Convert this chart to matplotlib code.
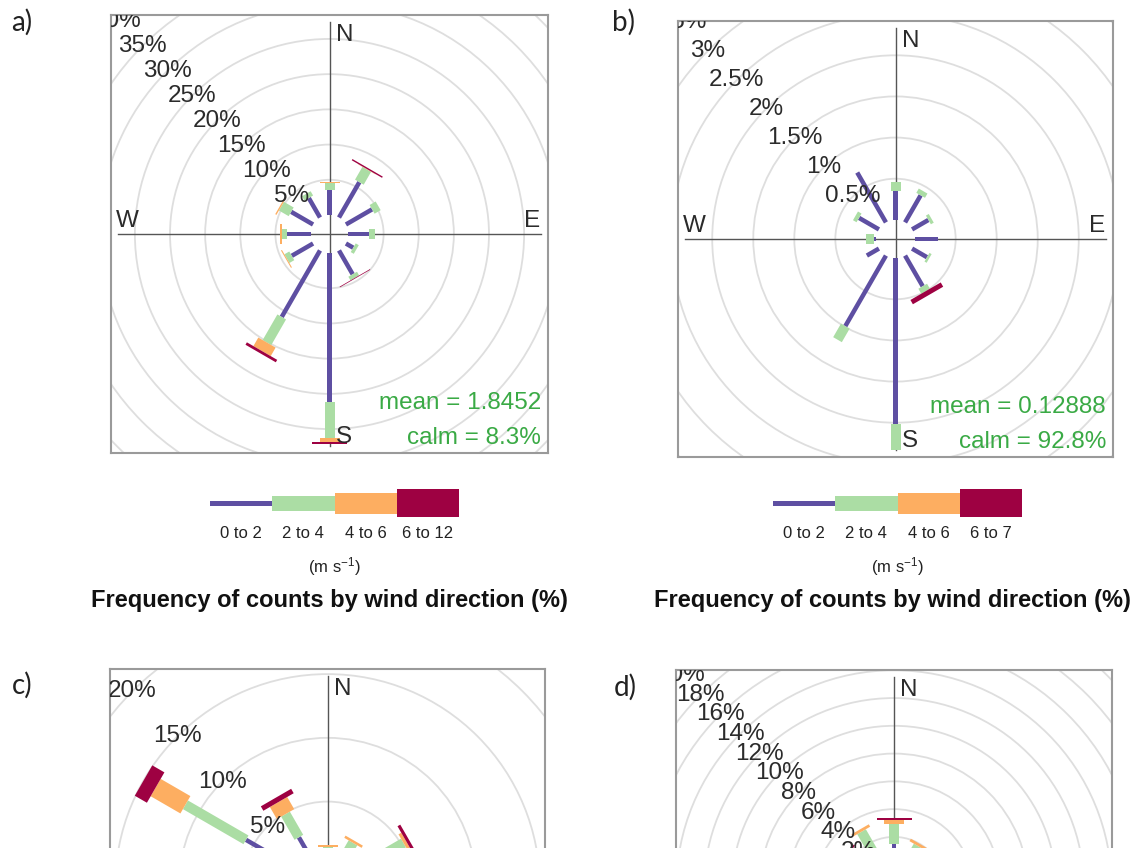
import matplotlib.pyplot as plt
from matplotlib.patches import Polygon, Circle
import numpy as np

plt.rcParams['font.family'] = ['Liberation Sans', 'DejaVu Sans']
plt.rcParams['mathtext.default'] = 'regular'

W, H = 1145, 848

# wind direction sectors (deg clockwise from north)
wd = np.arange(0, 360, 30)

# speed bins colours (openair default)
cols = ['#5E4FA2', '#ABDDA4', '#FDAE61', '#9E0142']

# a) frequency (%) for each speed bin
a_s1 = [3.6, 5.8, 4.3, 2.9, 1.2, 3.9, 21.1, 10.9, 3.5, 3.4, 3.6, 3.2]
a_s2 = [1.0, 2.1, 1.0, 0.9, 0.5, 0.6, 5.1, 4.2, 0.8, 0.7, 1.6, 0.7]
a_s3 = [0.15, 0.05, 0, 0, 0, 0, 0.6, 1.4, 0.15, 0.2, 0.2, 0]
a_s4 = [0, 0.2, 0, 0, 0, 0.1, 0.3, 0.4, 0, 0, 0, 0]
a_bins = ['0 to 2', '2 to 4', '4 to 6', '6 to 12']

# b)
b_s1 = [0.35, 0.38, 0.23, 0.28, 0.21, 0.43, 2.01, 0.99, 0.17, 0.03, 0.28, 0.70]
b_s2 = [0.11, 0.06, 0.04, 0, 0.03, 0.07, 0.32, 0.19, 0, 0.10, 0.05, 0]
b_s3 = [0, 0, 0, 0, 0, 0, 0, 0, 0, 0, 0, 0]
b_s4 = [0, 0, 0, 0, 0, 0.06, 0, 0, 0, 0, 0, 0]
b_bins = ['0 to 2', '2 to 4', '4 to 6', '6 to 7']

# c)  (lower half is cut off in the source)
c_s1 = [1.0, 1.3, 3.0, 3.0, 2.0, 1.5, 2.0, 2.5, 3.0, 4.0, 5.7, 2.8]
c_s2 = [0.45, 1.0, 2.2, 1.0, 0.5, 0.3, 0.6, 0.8, 1.0, 1.5, 5.5, 2.1]
c_s3 = [0.15, 0.2, 0.25, 0.2, 0.1, 0, 0.1, 0.2, 0.3, 0.5, 2.7, 1.1]
c_s4 = [0, 0, 0.25, 0.1, 0, 0, 0, 0, 0.1, 0.2, 1.1, 0.4]

# d)
d_s1 = [1.5, 1.1, 1.0, 1.2, 1.0, 1.5, 3.0, 4.0, 2.0, 1.5, 1.2, 1.4]
d_s2 = [1.42, 0.7, 0.5, 0.5, 0.4, 0.8, 2.0, 5.0, 1.0, 0.6, 0.8, 1.6]
d_s3 = [0.29, 0.2, 0.1, 0.1, 0.1, 0.3, 1.0, 2.5, 0.3, 0.2, 0.3, 0.2]
d_s4 = [0.15, 0, 0, 0, 0, 0.1, 0.5, 1.0, 0.1, 0, 0.1, 0]

widths_px = [4.5, 10, 20, 35]  # bar widths for each speed bin
green_txt = '#3aaa45'
txt_col = '#2b2b2b'
fs = 17.5


def px_box(x0, y0, x1, y1):
    return [x0 / W, 1 - y1 / H, (x1 - x0) / W, (y1 - y0) / H]


def rose(box, bins, off, lim, step, mean=None, calm=None, full=True):
    ax = fig.add_axes(px_box(*box))
    k = (box[2] - box[0]) / (2 * lim)  # px per %
    ax.set_xlim(-lim, lim)
    ax.set_ylim(-lim, lim)
    ax.set_xticks([])
    ax.set_yticks([])
    for s in ax.spines.values():
        s.set_color('#9a9a9a')
        s.set_linewidth(1.5)

    # grid rings + labels
    p = step
    while p + off < lim * np.sqrt(2):
        r = p + off
        ax.add_patch(Circle((0, 0), r, fill=False, ec='#dedede', lw=1.3, zorder=1))
        ax.text(-r * np.sin(np.pi / 4), r * np.cos(np.pi / 4), '%g%%' % p,
                ha='center', va='center', fontsize=fs, color=txt_col, zorder=5, clip_on=True)
        p += step

    m = 0.97 * lim
    ax.plot([0, 0], [-m, m], color='#555555', lw=1, zorder=2)
    ax.plot([-m, m], [0, 0], color='#555555', lw=1, zorder=2)

    # stacked spokes
    th = np.radians(wd)
    cum = np.zeros(len(wd))
    for j, f in enumerate(bins):
        f = np.asarray(f, dtype=float)
        hw = widths_px[j] / 2 / k
        for i in range(len(wd)):
            if f[i] <= 0:
                continue
            r1, r2 = cum[i] + off, cum[i] + f[i] + off
            u = np.array([np.sin(th[i]), np.cos(th[i])])
            n = np.array([np.cos(th[i]), -np.sin(th[i])])
            pts = [r1 * u + hw * n, r2 * u + hw * n, r2 * u - hw * n, r1 * u - hw * n]
            ax.add_patch(Polygon(pts, closed=True, fc=cols[j], ec='none', zorder=3))
        cum = cum + f

    # cardinal labels
    ax.annotate('N', (0, 0.91 * lim), xytext=(6, 0), textcoords='offset pixels',
                ha='left', va='center', fontsize=fs, color=txt_col)
    if full:
        ax.annotate('S', (0, -0.925 * lim), xytext=(6, 0), textcoords='offset pixels',
                    ha='left', va='center', fontsize=fs, color=txt_col)
        ax.annotate('E', (0.925 * lim, 0), xytext=(0, 13), textcoords='offset pixels',
                    ha='center', va='center', fontsize=fs, color=txt_col)
        ax.annotate('W', (-0.925 * lim, 0), xytext=(0, 13), textcoords='offset pixels',
                    ha='center', va='center', fontsize=fs, color=txt_col)

    if mean is not None:
        ax.text(0.984, 0.114, 'mean = ' + mean, transform=ax.transAxes, ha='right',
                va='center', fontsize=fs, color=green_txt)
        ax.text(0.984, 0.035, 'calm = ' + calm, transform=ax.transAxes, ha='right',
                va='center', fontsize=fs, color=green_txt)
    return ax


def key(x0, labels, cx):
    # colour key below the rose
    ax = fig.add_axes(px_box(x0, 487, x0 + 249, 519))
    ax.set_xlim(0, 4)
    ax.set_ylim(-16, 16)
    ax.axis('off')
    h = np.array([5, 15, 21, 28])
    ax.bar(np.arange(4) + 0.5, h, bottom=-h / 2, width=1, color=cols)
    for i, lab in enumerate(labels):
        ax.text(i + 0.5, -31, lab, ha='center', va='center', fontsize=12,
                family=['Liberation Sans Narrow', 'Liberation Sans'], color='#222222')
    fig.text(cx / W, 1 - 567 / H, '(m s$^{-1}$)', ha='center', va='center',
             fontsize=12, family=['Liberation Sans Narrow', 'Liberation Sans'],
             color='#222222')
    fig.text(cx / W - 0.004, 1 - 600 / H, 'Frequency of counts by wind direction (%)',
             ha='center', va='center', fontsize=17, fontweight='bold', color='#111111')


fig = plt.figure(figsize=(W / 100, H / 100), dpi=100)

rose((111, 15, 548, 453), [a_s1, a_s2, a_s3, a_s4], 2.7, 31.1, 5, '1.8452', '8.3%')
rose((678, 21, 1113, 457), [b_s1, b_s2, b_s3, b_s4], 0.233, 2.65, 0.5, '0.12888', '92.8%')
rose((110, 669, 545, 1105), [c_s1, c_s2, c_s3, c_s4], 1.7, 17.1, 5, full=False)
rose((676, 670, 1112, 1106), [d_s1, d_s2, d_s3, d_s4], 1.68, 15.7, 2, full=False)

key(210, a_bins, 334)
key(773, b_bins, 897)

for lab, x, y in [('a)', 22, 22), ('b)', 623, 22), ('c)', 22, 685), ('d)', 625, 687)]:
    fig.text(x / W, 1 - y / H, lab, ha='center', va='center', fontsize=20,
             family=['Lato', 'DejaVu Sans'], color='#222222')

fig.savefig('out.png', dpi=100)
